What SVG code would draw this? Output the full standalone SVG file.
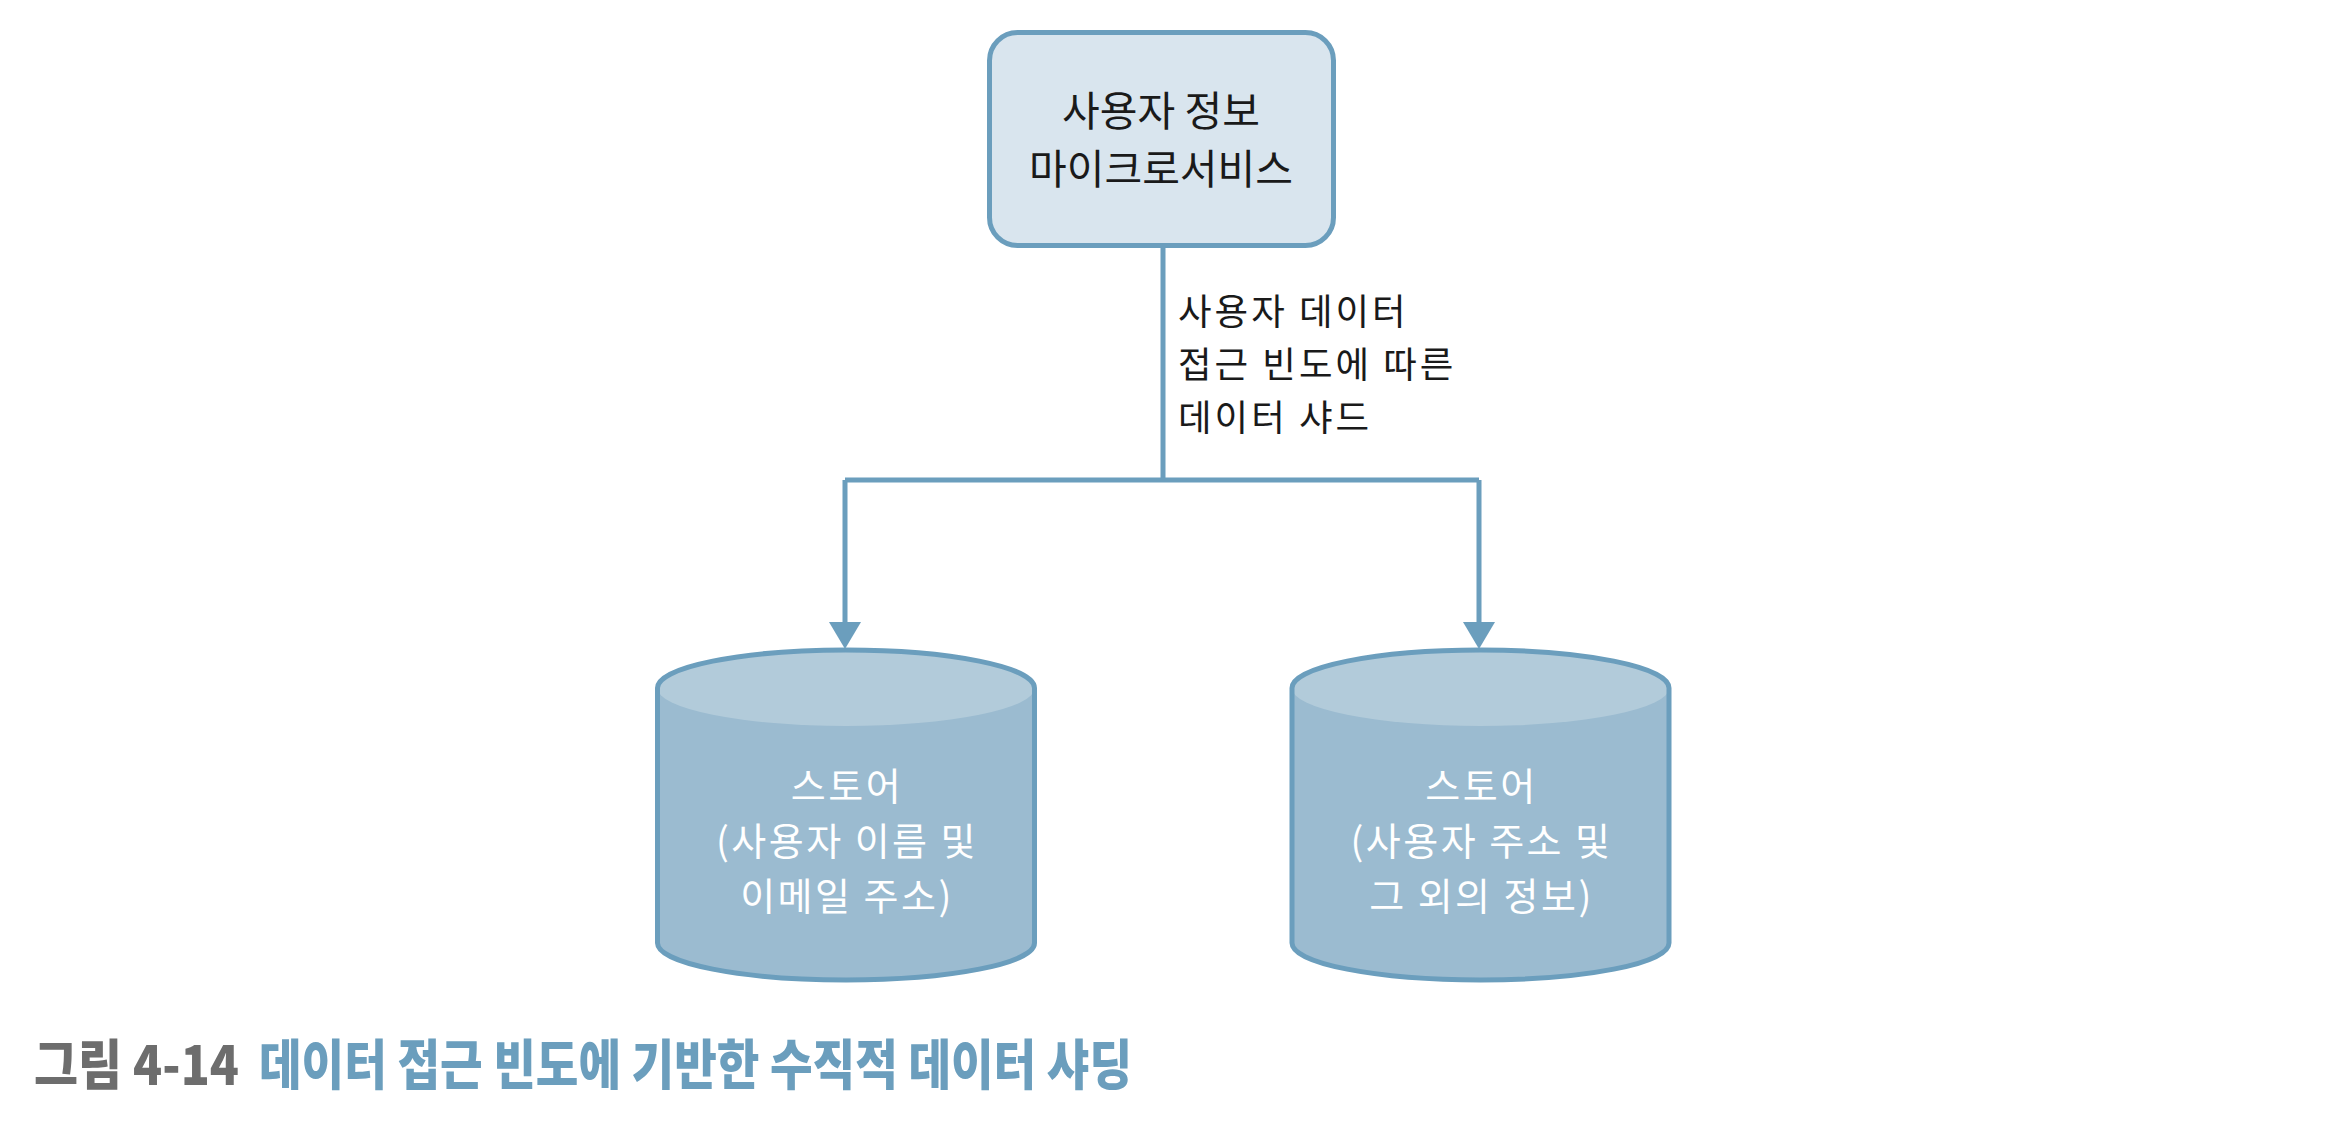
<svg xmlns="http://www.w3.org/2000/svg" width="2346" height="1122" viewBox="0 0 2346 1122">
  <style>
    .t { font-family: "Noto Sans CJK KR", "Noto Sans", sans-serif; font-size: 41px; }
    .lbl { font-size: 36.5px; letter-spacing: 3px; }
    .st { font-size: 38px; letter-spacing: 2.5px; }
    .dark { fill: #1a1a1a; }
    .white { fill: #ffffff; }
    .edge { fill: none; stroke: #6b9ebd; stroke-width: 5; }
    .body { fill: #9bbbd0; }
    .lid { fill: #b2cbda; }
    .cap { font-family: "Noto Sans CJK KR", "Noto Sans", sans-serif; font-size: 54px; font-weight: 900; }
  </style>
  <rect width="2346" height="1122" fill="#ffffff"/>

  <!-- service box -->
  <g id="user-service">
    <rect x="989.5" y="32.5" width="344" height="213" rx="28" fill="#d9e5ee" stroke="#6b9ebd" stroke-width="5"/>
    <text class="t dark" text-anchor="middle"><tspan x="1161" y="126">사용자 정보</tspan><tspan x="1161" y="184">마이크로서비스</tspan></text>
  </g>

  <!-- connectors -->
  <g id="connectors">
    <path class="edge" d="M1163 248 V480"/>
    <path class="edge" d="M845 480 H1479"/>
    <path class="edge" d="M845 480 V624"/>
    <path class="edge" d="M1479 480 V624"/>
    <polygon points="829,622 861,622 845,649" fill="#6b9ebd"/>
    <polygon points="1463,622 1495,622 1479,649" fill="#6b9ebd"/>
    <text class="t lbl dark"><tspan x="1178" y="325">사용자 데이터</tspan><tspan x="1178" y="378">접근 빈도에 따른</tspan><tspan x="1178" y="431">데이터 샤드</tspan></text>
  </g>

  <!-- left store -->
  <g id="store-name-email">
    <path class="body" d="M657.5 688 A188.5 38 0 0 1 1034.5 688 V943 A188.5 37 0 0 1 657.5 943 Z"/>
    <ellipse class="lid" cx="846" cy="688" rx="188.5" ry="38"/>
    <path class="edge" d="M657.5 688 A188.5 38 0 0 1 1034.5 688 V943 A188.5 37 0 0 1 657.5 943 Z"/>
    <text class="t st white" text-anchor="middle"><tspan x="847" y="800">스토어</tspan><tspan x="847" y="855">(사용자 이름 및</tspan><tspan x="847" y="910">이메일 주소)</tspan></text>
  </g>

  <!-- right store -->
  <g id="store-address-other">
    <path class="body" d="M1292 688 A188.5 38 0 0 1 1669 688 V943 A188.5 37 0 0 1 1292 943 Z"/>
    <ellipse class="lid" cx="1480.5" cy="688" rx="188.5" ry="38"/>
    <path class="edge" d="M1292 688 A188.5 38 0 0 1 1669 688 V943 A188.5 37 0 0 1 1292 943 Z"/>
    <text class="t st white" text-anchor="middle"><tspan x="1481.5" y="800">스토어</tspan><tspan x="1481.5" y="855">(사용자 주소 및</tspan><tspan x="1481.5" y="910">그 외의 정보)</tspan></text>
  </g>

  <!-- figure caption -->
  <text class="cap" x="34" y="1085" fill="#6d6d6d" textLength="205" lengthAdjust="spacingAndGlyphs">그림 4-14</text>
  <text class="cap" x="259" y="1085" fill="#6b9ebd" textLength="873" lengthAdjust="spacingAndGlyphs">데이터 접근 빈도에 기반한 수직적 데이터 샤딩</text>
</svg>
